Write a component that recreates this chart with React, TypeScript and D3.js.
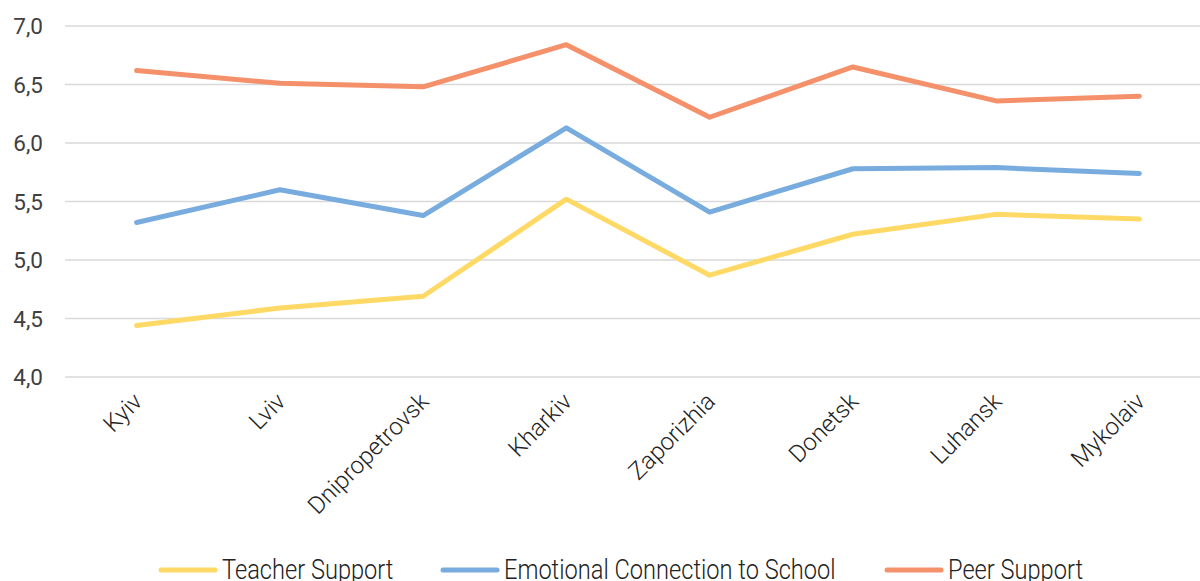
import React from "react";
import * as d3 from "d3";

const regions = ["Kyiv", "Lviv", "Dnipropetrovsk", "Kharkiv", "Zaporizhia", "Donetsk", "Luhansk", "Mykolaiv"];
const teacherSupport = [4.44, 4.59, 4.69, 5.52, 4.87, 5.22, 5.39, 5.35];
const emotionalConnection = [5.32, 5.6, 5.38, 6.13, 5.41, 5.78, 5.79, 5.74];
const peerSupport = [6.62, 6.51, 6.48, 6.84, 6.22, 6.65, 6.36, 6.4];
const yTicks = [4.0, 4.5, 5.0, 5.5, 6.0, 6.5, 7.0];

const seriesList = [
  { name: "Teacher Support", values: teacherSupport, color: "#FFD966" },
  { name: "Emotional Connection to School", values: emotionalConnection, color: "#78ACDE" },
  { name: "Peer Support", values: peerSupport, color: "#F4916B" },
];

const W = 1200;
const H = 581;

export default function App() {
  const x = d3.scaleBand<string>().domain(regions).range([65, 1211]);
  const y = d3.scaleLinear().domain([4, 7]).range([377, 26]);
  const cx = (r: string) => (x(r) ?? 0) + x.bandwidth() / 2;
  const fmt = (v: number) => v.toFixed(1).replace(".", ",");

  const line = d3
    .line<number>()
    .x((_, i) => cx(regions[i]))
    .y((v) => y(v));

  const legendX = [161, 443, 887];

  return (
    <svg
      width={W}
      height={H}
      style={{ position: "absolute", left: 0, top: 0, background: "#fff" }}
      fontFamily="Roboto, sans-serif"
    >
      {yTicks.map((t) => (
        <g key={t}>
          <line x1={65} x2={1211} y1={y(t)} y2={y(t)} stroke="#D9D9D9" strokeWidth={1.5} />
          <text
            x={43}
            y={y(t)}
            dy="0.36em"
            textAnchor="end"
            fontSize={22.5}
            fontWeight={400}
            fill="#404040"
          >
            {fmt(t)}
          </text>
        </g>
      ))}

      {regions.map((r) => (
        <text
          key={r}
          transform={`translate(${cx(r) + 7},${403}) rotate(-45)`}
          textAnchor="end"
          fontSize={24}
          fontWeight={300}
          fill="#222"
        >
          {r}
        </text>
      ))}

      {seriesList.map((s) => (
        <path
          key={s.name}
          d={line(s.values) ?? ""}
          fill="none"
          stroke={s.color}
          strokeWidth={5}
          strokeLinejoin="round"
          strokeLinecap="round"
        />
      ))}

      {seriesList.map((s, i) => (
        <g key={s.name} transform={`translate(${legendX[i]},570)`}>
          <line x1={0} x2={54} y1={0} y2={0} stroke={s.color} strokeWidth={5} strokeLinecap="round" />
          <text
            transform="translate(61,9) scale(0.875,1)"
            fontSize={27}
            fontWeight={300}
            fill="#222"
          >
            {s.name}
          </text>
        </g>
      ))}
    </svg>
  );
}
